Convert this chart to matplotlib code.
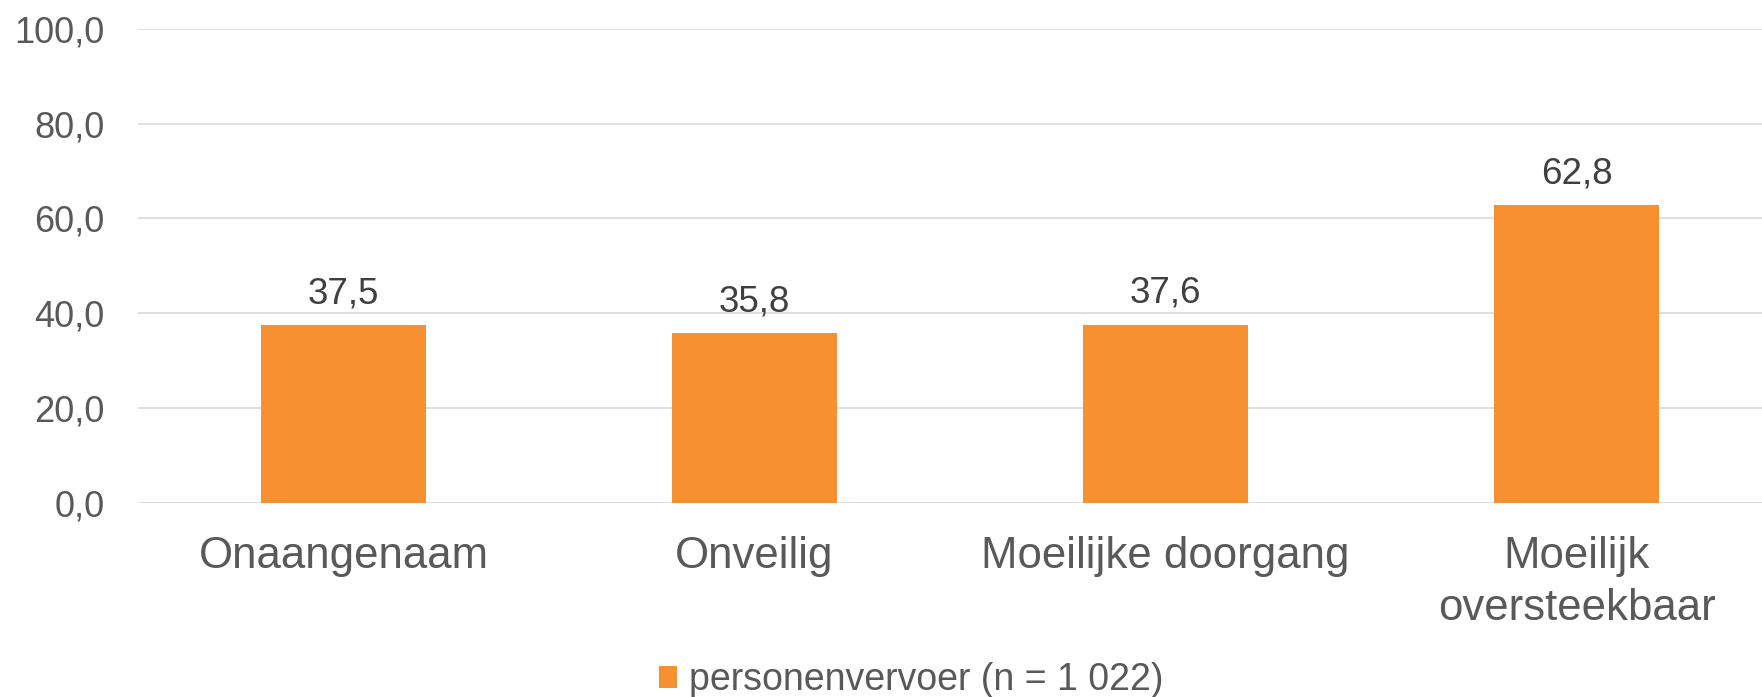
import matplotlib
matplotlib.use("Agg")
import matplotlib.pyplot as plt

plt.rcParams['font.family'] = ['Liberation Sans', 'DejaVu Sans']

# data
categories = ["Onaangenaam", "Onveilig", "Moeilijke doorgang", "Moeilijk\noversteekbaar"]
values = [37.5, 35.8, 37.6, 62.8]
series_name = "personenvervoer (n = 1 022)"
yticks = [0, 20, 40, 60, 80, 100]

bar_color = "#F79030"
tick_color = "#595959"
label_color = "#404040"
grid_color = "#D9D9D9"

fig = plt.figure(figsize=(17.62, 6.97), dpi=100)
ax = fig.add_axes([0.0783, 0.2788, 0.9217, 0.6796])

x = list(range(len(categories)))
bars = ax.bar(x, values, width=0.4, color=bar_color, label=series_name, zorder=3)
ax.bar_label(bars, labels=[f"{v:.1f}".replace(".", ",") for v in values],
             padding=10, fontsize=26.5, color=label_color)

ax.set_ylim(0, 100)
ax.set_xlim(-0.5, 3.451)
ax.set_yticks(yticks)
ax.set_yticklabels([f"{v:.1f}".replace(".", ",") for v in yticks])
ax.set_xticks(x)
ax.set_xticklabels(categories, linespacing=1.33)

ax.tick_params(axis="y", length=0, pad=24, labelsize=26, labelcolor=tick_color)
ax.tick_params(axis="x", length=0, pad=24, labelsize=31.5, labelcolor=tick_color)

ax.grid(axis="y", color=grid_color, linewidth=1.2, zorder=0)
for s in ax.spines.values():
    s.set_visible(False)

fig.legend(loc="center", bbox_to_anchor=(0.517, 0.024), frameon=False,
           fontsize=27, labelcolor=tick_color, handlelength=0.5, handleheight=0.5,
           handletextpad=0.3, borderpad=0)

fig.savefig("out.png", dpi=100)
